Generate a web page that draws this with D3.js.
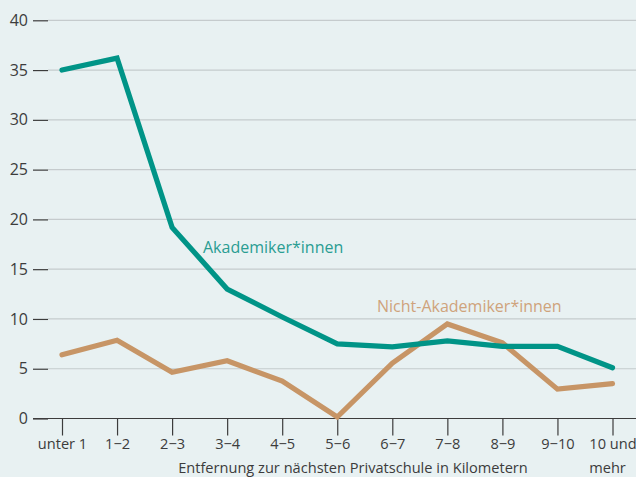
<!DOCTYPE html>
<html><head><meta charset="utf-8">
<script src="https://cdn.jsdelivr.net/npm/d3@7/dist/d3.min.js"></script>
<style>
html,body{margin:0;padding:0;background:#e8f1f2;}
svg{display:block;font-family:"Open Sans","Noto Sans",sans-serif;}
</style></head>
<body>
<svg id="c" width="636" height="477"></svg>
<script>
const categories = ["unter 1","1−2","2−3","3−4","4−5","5−6","6−7","7−8","8−9","9−10","10 und"];
const akademiker = [35.0, 36.2, 19.2, 13.0, 10.2, 7.5, 7.2, 7.8, 7.25, 7.25, 5.1];
const nichtAkademiker = [6.4, 7.85, 4.65, 5.8, 3.75, 0.15, 5.55, 9.5, 7.6, 2.95, 3.5];
const yTicks = [0,5,10,15,20,25,30,35,40];
const xTitle = "Entfernung zur nächsten Privatschule in Kilometern";

const svg = d3.select("#c");
svg.append("rect").attr("width",636).attr("height",477).attr("fill","#e8f1f2");

const x = d3.scalePoint().domain(categories).range([62, 612.5]);
const y = d3.scaleLinear().domain([0,40]).range([418.5, 20.3]);

// gridlines
svg.append("g").selectAll("line").data(yTicks.filter(d=>d>0)).join("line")
  .attr("x1",48).attr("x2",636).attr("y1",d=>y(d)).attr("y2",d=>y(d))
  .attr("stroke","#c5cbcd").attr("stroke-width",1.2);

// y axis
const yAxis = svg.append("g").attr("transform","translate(48,0)")
  .call(d3.axisLeft(y).tickValues(yTicks).tickSize(15).tickPadding(5));
yAxis.select(".domain").remove();
yAxis.selectAll(".tick line").attr("stroke","#3c3c3c").attr("stroke-width",1.2);
yAxis.selectAll(".tick text").attr("fill","#3c3c3c").style("font-size","16px").style("font-family","Open Sans, sans-serif");

// zero baseline
svg.append("line").attr("x1",33).attr("x2",636).attr("y1",y(0)).attr("y2",y(0))
  .attr("stroke","#3c3c3c").attr("stroke-width",1.2);

// x axis
const xAxis = svg.append("g").attr("transform",`translate(0,${y(0)})`)
  .call(d3.axisBottom(x).tickSize(17).tickPadding(3));
xAxis.select(".domain").remove();
xAxis.selectAll(".tick line").attr("stroke","#3c3c3c").attr("stroke-width",1.2);
xAxis.selectAll(".tick text").attr("fill","#3c3c3c").style("font-size","14.6px").style("font-family","Open Sans, sans-serif");

svg.append("text").attr("x",x("10 und")-5).attr("y",473).attr("text-anchor","middle")
  .attr("fill","#3c3c3c").style("font-size","14.6px").text("mehr");
svg.append("text").attr("x",353).attr("y",473).attr("text-anchor","middle")
  .attr("fill","#3c3c3c").style("font-size","14.6px").text(xTitle);

const line = d3.line().x((d,i)=>x(categories[i])).y(d=>y(d));

svg.append("path").datum(nichtAkademiker).attr("d",line)
  .attr("fill","none").attr("stroke","#c79566").attr("stroke-width",5.2).attr("stroke-linecap","round").attr("stroke-linejoin","miter");
svg.append("path").datum(akademiker).attr("d",line)
  .attr("fill","none").attr("stroke","#009487").attr("stroke-width",5.2).attr("stroke-linecap","round").attr("stroke-linejoin","miter");

svg.append("text").attr("x",203).attr("y",253).attr("fill","#2a9d92")
  .style("font-size","16px").text("Akademiker*innen");
svg.append("text").attr("x",377).attr("y",312).attr("fill","#cfa37c")
  .style("font-size","16px").text("Nicht-Akademiker*innen");
</script>
</body></html>
